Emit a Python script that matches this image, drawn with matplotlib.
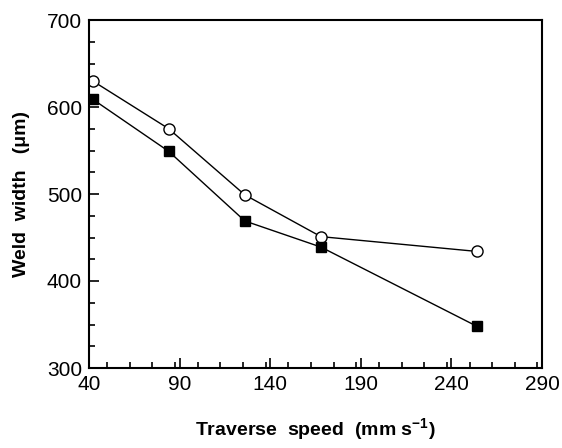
import matplotlib
matplotlib.use("Agg")
import matplotlib.pyplot as plt
from matplotlib.ticker import MultipleLocator

# traverse speed (mm/s) and weld width (um)
speed = [42, 84, 126, 168, 254]
width_open = [630, 575, 499, 451, 434]
width_filled = [609, 549, 469, 439, 348]

plt.rcParams['font.family'] = ['Liberation Sans', 'DejaVu Sans']
plt.rcParams['mathtext.default'] = 'regular'

fig = plt.figure(figsize=(5.62, 4.48), dpi=100)
ax = fig.add_axes([89 / 562, 1 - 368 / 448, (542 - 89) / 562, (368 - 20) / 448])

ax.plot(speed, width_open, color='black', lw=1.0, marker='o', ms=8,
        mfc='white', mec='black', mew=1.0)
ax.plot(speed, width_filled, color='black', lw=1.0, marker='s', ms=7.5,
        mfc='black', mec='black')

ax.set_xlim(40, 290)
ax.set_ylim(300, 700)
ax.set_xticks([40, 90, 140, 190, 240, 290])
ax.set_yticks([300, 400, 500, 600, 700])
ax.xaxis.set_minor_locator(MultipleLocator(12.5))
ax.yaxis.set_minor_locator(MultipleLocator(25))
ax.tick_params(which='both', direction='in', top=False, right=False, width=1.2)
ax.tick_params(which='major', length=7, labelsize=15, pad=5)
ax.tick_params(which='minor', length=4)
for s in ax.spines.values():
    s.set_linewidth(1.5)

ax.set_xlabel('Traverse  speed  (mm s$^{-1}$)', fontsize=14, fontweight='bold',
              labelpad=16)
ax.set_ylabel('Weld  width   (\u03bcm)', fontsize=14, fontweight='bold', labelpad=12)

fig.savefig('out.png', dpi=100)
